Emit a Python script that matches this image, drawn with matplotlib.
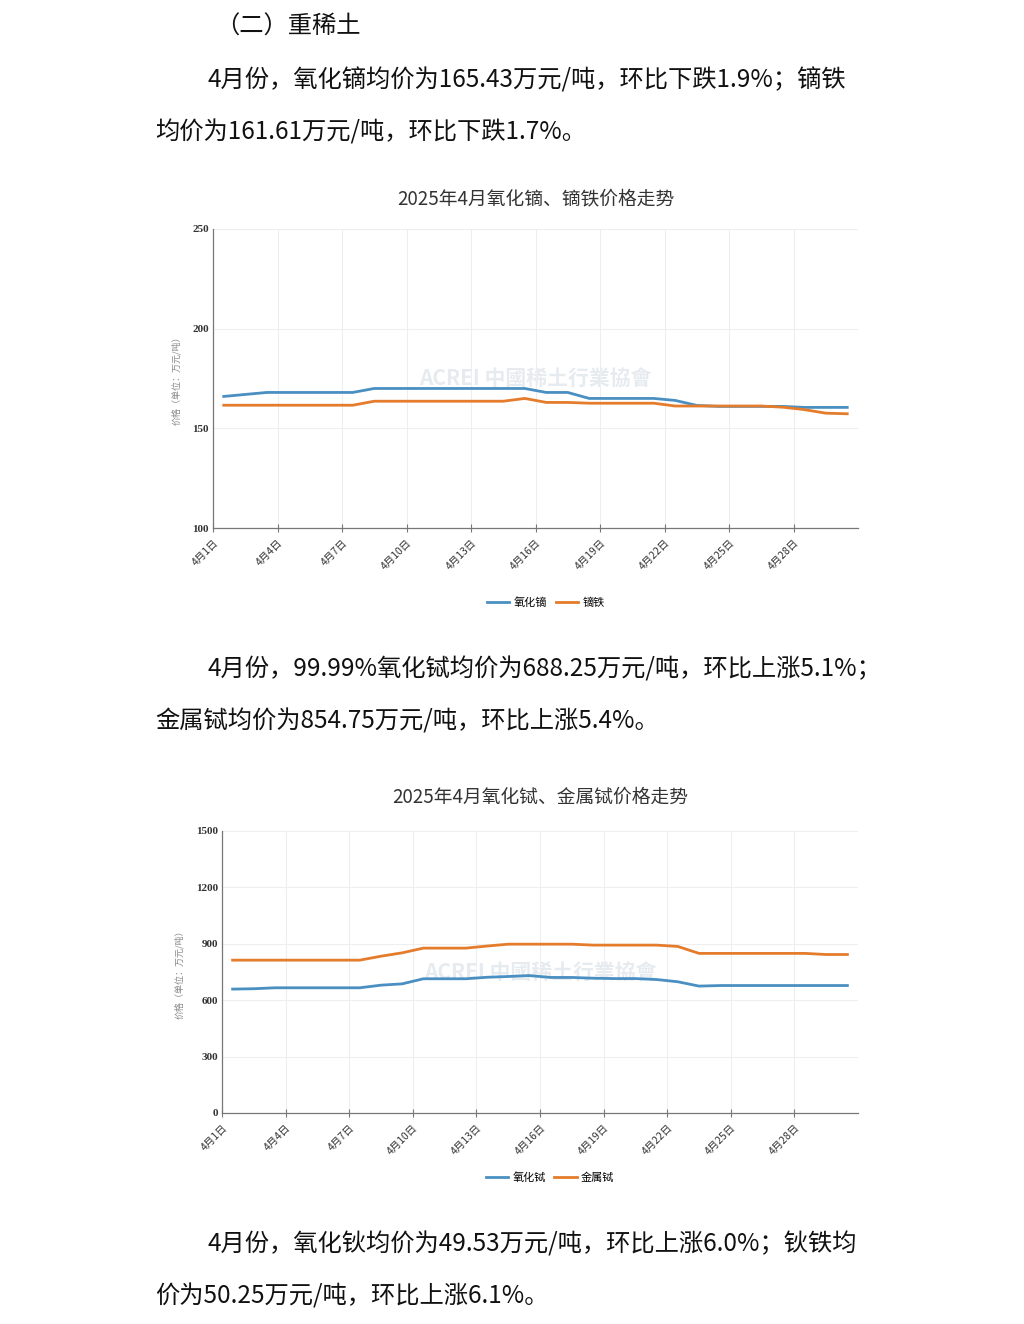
import matplotlib
matplotlib.use("Agg")
import matplotlib.pyplot as plt

plt.rcParams['font.family'] = ['Noto Sans CJK SC', 'DejaVu Sans']

days = list(range(1, 31))
tick_days = [1, 4, 7, 10, 13, 16, 19, 22, 25, 28]
tick_labels = [f"4月{d}日" for d in tick_days]

dy_oxide = [166, 167, 168, 168, 168, 168, 168, 170, 170, 170, 170, 170, 170, 170, 170,
            168, 168, 165, 165, 165, 165, 164, 161.5, 161, 161, 161, 161, 160.5, 160.5, 160.5]
dy_fe = [161.6, 161.6, 161.6, 161.6, 161.6, 161.6, 161.6, 163.6, 163.6, 163.6, 163.6, 163.6, 163.6, 163.6, 165,
         163, 163, 162.6, 162.6, 162.6, 162.6, 161.2, 161.2, 161.2, 161.2, 161.2, 160.6, 159.4, 157.6, 157.3]
tb_oxide = [659, 661, 666, 666, 666, 666, 666, 680, 687, 714, 714, 714, 722, 726, 731,
            721, 721, 717, 715, 715, 710, 698, 675, 678, 678, 678, 678, 678, 678, 678]
tb_metal = [813, 813, 813, 813, 813, 813, 813, 834, 852, 877, 877, 877, 888, 898, 898,
            898, 898, 893, 893, 893, 893, 886, 849, 849, 849, 849, 849, 849, 843, 843]

BLUE = '#4a8fc2'
ORANGE = '#e47c2c'

W, H = 1024, 1324
fig = plt.figure(figsize=(W/100, H/100), dpi=100)

def ftext(x, y, s, **kw):
    fig.text(x/W, 1-y/H, s, va='center', **kw)

body = dict(fontsize=17.5, color='#111111')
ftext(215, 27, "（二）重稀土", **body)
ftext(207, 80, "4月份，氧化镝均价为165.43万元/吨，环比下跌1.9%；镝铁", **body)
ftext(155, 133, "均价为161.61万元/吨，环比下跌1.7%。", **body)
ftext(207, 670, "4月份，99.99%氧化铽均价为688.25万元/吨，环比上涨5.1%；", **body)
ftext(155, 722, "金属铽均价为854.75万元/吨，环比上涨5.4%。", **body)
ftext(207, 1244, "4月份，氧化钬均价为49.53万元/吨，环比上涨6.0%；钬铁均", **body)
ftext(155, 1297, "价为50.25万元/吨，环比上涨6.1%。", **body)

def chart(rect, title, title_y, s1, s2, n1, n2, ylim, yticks, legend_y):
    l, t, r, b = rect
    ax = fig.add_axes([l/W, 1-b/H, (r-l)/W, (b-t)/H])
    x = [d-0.5 for d in days]
    ax.plot(x, s1, color=BLUE, lw=2, label=n1)
    ax.plot(x, s2, color=ORANGE, lw=2, label=n2)
    ax.set_xlim(0, 30)
    ax.set_ylim(*ylim)
    ax.set_yticks(yticks)
    ax.set_yticklabels([str(v) for v in yticks], fontsize=8, family=['Liberation Serif', 'DejaVu Serif'], fontweight='bold', color='#333333')
    ax.set_xticks([d-1 for d in tick_days])
    ax.set_xticklabels(tick_labels, rotation=45, ha='right', rotation_mode='anchor', fontsize=7.5, color='#333333')
    ax.tick_params(axis='x', length=6, direction='inout', color='#777777', pad=4)
    ax.tick_params(axis='y', length=0, pad=3)
    ax.grid(True, color='#eeeeee', lw=0.8)
    ax.set_axisbelow(True)
    for s in ['top', 'right']:
        ax.spines[s].set_visible(False)
    for s in ['left', 'bottom']:
        ax.spines[s].set_color('#777777')
        ax.spines[s].set_linewidth(0.9)
    ax.set_ylabel("价格（单位：万元/吨）", fontsize=6.5, color='#888888', labelpad=8)
    ax.text(0.5, 0.5, "ACREI 中國稀土行業協會", transform=ax.transAxes, ha='center', va='center',
            fontsize=15, color='#cfd8e3', alpha=0.5, fontweight='bold', zorder=0)
    ftext((l+r)/2, title_y, title, ha='center', fontsize=13.5, color='#333333')
    fig.legend(handles=ax.get_lines(), loc='center', bbox_to_anchor=(((l+r)/2+10)/W, 1-legend_y/H),
               ncol=2, frameon=False, fontsize=8, handlelength=2, columnspacing=0.8, handletextpad=0.4)
    return ax

chart((213, 229, 858, 528), "2025年4月氧化镝、镝铁价格走势", 199, dy_oxide, dy_fe, "氧化镝", "镝铁",
      (100, 250), [100, 150, 200, 250], 603)
chart((222, 831, 858, 1113), "2025年4月氧化铽、金属铽价格走势", 797, tb_oxide, tb_metal, "氧化铽", "金属铽",
      (0, 1500), [0, 300, 600, 900, 1200, 1500], 1178)

fig.savefig("out.png", dpi=100, facecolor='white')
